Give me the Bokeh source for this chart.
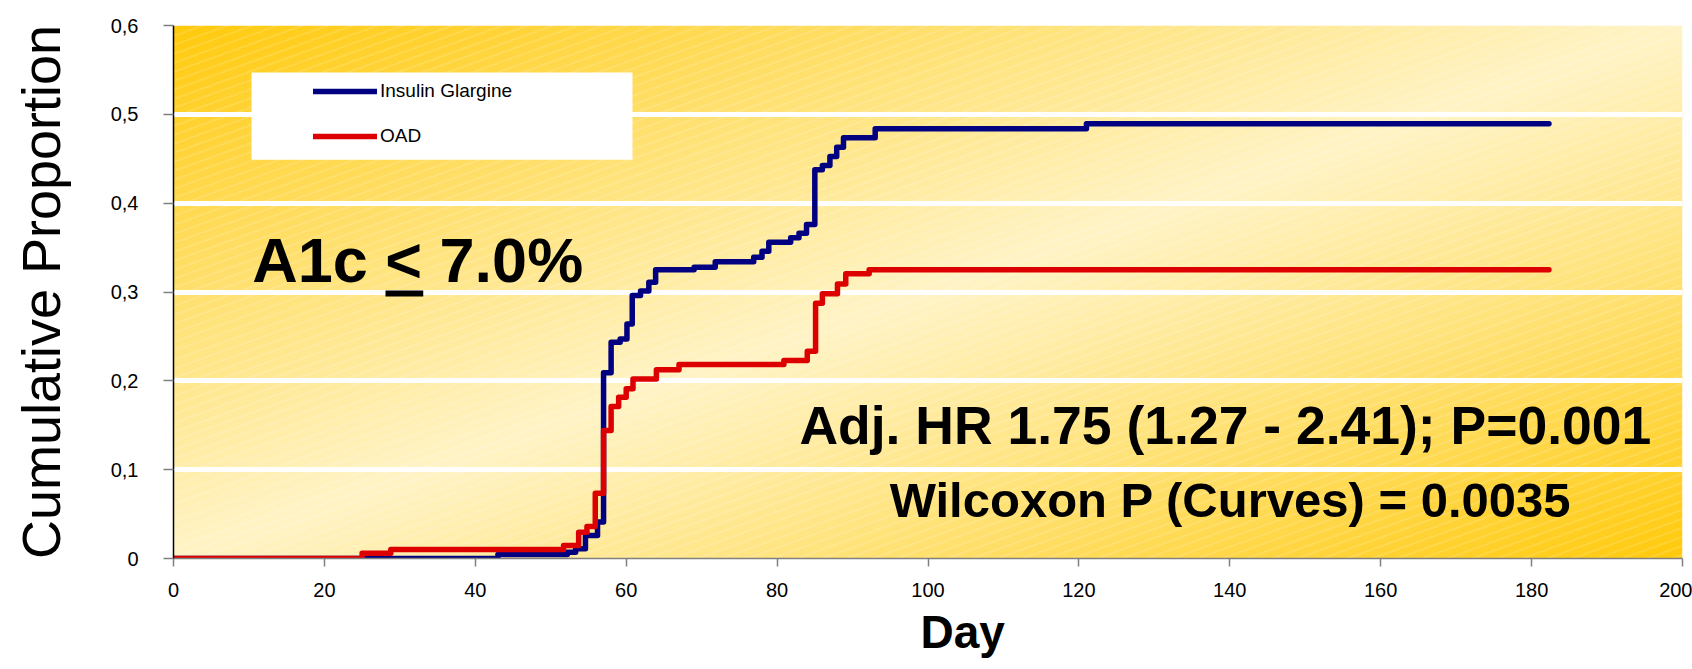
import numpy as np
from bokeh.plotting import figure
from bokeh.models import Legend, LegendItem, Label, BoxAnnotation, FixedTicker, Title
from bokeh.embed import file_html
from bokeh.resources import INLINE

# ---------------- data ----------------
blue_day = [0, 43.0, 52.2, 53.3, 54.6, 56.2, 57.0, 58.0, 59.2, 60.1, 60.8, 61.9, 63.0, 63.9,
            69.0, 71.8, 76.9, 78.0, 78.9, 81.8, 82.9, 83.9, 85.0, 86.0, 87.0, 87.9, 88.8,
            93.0, 121.0, 182.3]
blue_prop = [0, 0.0045, 0.007, 0.011, 0.026, 0.041, 0.209, 0.2435, 0.247, 0.264, 0.296, 0.301,
             0.311, 0.325, 0.328, 0.334, 0.339, 0.346, 0.356, 0.361, 0.366, 0.376, 0.4375,
             0.4424, 0.4526, 0.463, 0.4736, 0.4837, 0.4893, 0.4893]

red_day = [0, 25.0, 28.8, 51.7, 53.7, 54.8, 55.9, 57.0, 58.0, 59.0, 60.0, 60.9, 64.0, 67.0,
           80.9, 84.0, 85.1, 86.0, 88.0, 89.1, 92.2, 182.3]
red_prop = [0, 0.006, 0.010, 0.0146, 0.0296, 0.036, 0.0735, 0.144, 0.171, 0.1816, 0.191,
            0.2022, 0.2124, 0.2184, 0.2229, 0.2334, 0.2874, 0.298, 0.309, 0.3205, 0.325, 0.325]

series_names = ["Insulin Glargine", "OAD"]
x_ticks = [0, 20, 40, 60, 80, 100, 120, 140, 160, 180, 200]
y_ticks = [0, 0.1, 0.2, 0.3, 0.4, 0.5, 0.6]
y_tick_labels = ["0", "0,1", "0,2", "0,3", "0,4", "0,5", "0,6"]

REG = "'Liberation Sans', Arial, sans-serif"

p = figure(width=1692, height=669, x_range=(0, 200), y_range=(0, 0.6),
           output_backend="svg", toolbar_location=None,
           min_border_left=173, min_border_right=10, min_border_top=25, min_border_bottom=111)
p.outline_line_color = None
p.background_fill_color = "white"
p.border_fill_color = "white"

# ---------------- gradient background with faint hatching ----------------
W, H = 1509, 533
xs = (np.arange(W) + 0.5) / W
yb = (np.arange(H) + 0.5) / H
X, Yb = np.meshgrid(xs, yb)
t = (X + (1 - Yb)) / 2
s = np.clip(np.abs(2 * t - 1), 0, 1)
gold = np.array([255, 202, 12], dtype=float)
pale = np.array([255, 244, 198], dtype=float)
rgb = pale + (gold - pale) * (s ** 1.05)[..., None]
px = X * W
py = Yb * H
mask = np.mod(py - 0.36 * px, 9.0) < 1.0
a = 0.28
rgb[mask] = rgb[mask] * (1 - a) + 255 * a
img = np.empty((H, W), dtype=np.uint32)
view = img.view(dtype=np.uint8).reshape((H, W, 4))
view[..., 0] = rgb[..., 0].astype(np.uint8)
view[..., 1] = rgb[..., 1].astype(np.uint8)
view[..., 2] = rgb[..., 2].astype(np.uint8)
view[..., 3] = 255
p.image_rgba(image=[img], x=0, y=0, dw=200, dh=0.6, level="image")

# ---------------- grid ----------------
p.xgrid.visible = False
p.ygrid.ticker = FixedTicker(ticks=y_ticks[1:-1])
p.ygrid.grid_line_color = "white"
p.ygrid.grid_line_width = 5

# ---------------- axes ----------------
p.xaxis.ticker = FixedTicker(ticks=x_ticks)
p.yaxis.ticker = FixedTicker(ticks=y_ticks)
p.yaxis.major_label_overrides = dict(zip(y_ticks, y_tick_labels))

p.yaxis.axis_line_color = "black"
p.yaxis.axis_line_width = 1.5
p.yaxis.major_tick_line_color = "#808080"
p.yaxis.major_tick_line_width = 1.5
p.yaxis.major_tick_out = 10
p.yaxis.major_tick_in = 0
p.yaxis.minor_tick_line_color = None
p.yaxis.major_label_text_font = REG
p.yaxis.major_label_text_font_size = "20px"
p.yaxis.major_label_text_color = "black"
p.yaxis.major_label_standoff = 25
p.yaxis.axis_label = "Cumulative Proportion"
p.yaxis.axis_label_text_font = REG
p.yaxis.axis_label_text_font_style = "normal"
p.yaxis.axis_label_text_font_size = "54px"
p.yaxis.axis_label_text_color = "black"
p.yaxis.axis_label_standoff = 37

p.xaxis.axis_line_color = "#808080"
p.xaxis.axis_line_width = 1.5
p.xaxis.major_tick_line_color = "#808080"
p.xaxis.major_tick_line_width = 1.5
p.xaxis.major_tick_out = 8
p.xaxis.major_tick_in = 0
p.xaxis.minor_tick_line_color = None
p.xaxis.major_label_text_font = REG
p.xaxis.major_label_text_font_size = "20px"
p.xaxis.major_label_text_color = "black"
p.xaxis.major_label_standoff = 16

# x-axis title as a side title (so that it can be shifted along the axis)
p.add_layout(Title(text="Day", align="left", offset=747, standoff=8,
                   text_font=REG, text_font_style="bold", text_font_size="46px",
                   text_color="black"), "below")

# ---------------- curves ----------------
rb = p.step(blue_day, blue_prop, mode="after", line_color="#000080", line_width=5.5,
            line_join="round", line_cap="round")
rr = p.step(red_day, red_prop, mode="after", line_color="#DD0000", line_width=5.5,
            line_join="round", line_cap="round")

# ---------------- legend ----------------
p.add_layout(BoxAnnotation(left=10.34, right=60.83, bottom=0.4488, top=0.5471,
                           fill_color="white", fill_alpha=1, line_color=None))
legend = Legend(items=[LegendItem(label=series_names[0], renderers=[rb]),
                       LegendItem(label=series_names[1], renderers=[rr])],
                location=(140, 411), padding=0, spacing=23, margin=0,
                glyph_width=64, glyph_height=20, label_height=20, label_standoff=3,
                label_text_font=REG, label_text_font_size="19px", label_text_color="black",
                background_fill_alpha=0, border_line_alpha=0)
p.add_layout(legend)

# ---------------- annotations ----------------
p.add_layout(Label(x=10.43, y=0.3363, text="A1c < 7.0%", text_font=REG,
                   text_font_style="bold", text_font_size="63px", text_color="black",
                   text_align="left", text_baseline="alphabetic"))
p.add_layout(BoxAnnotation(left=28.1, right=33.1, bottom=0.2949, top=0.3017,
                           fill_color="black", fill_alpha=1, line_color=None))
p.add_layout(Label(x=140.4, y=0.1501, text="Adj.  HR 1.75 (1.27 - 2.41); P=0.001",
                   text_font=REG, text_font_style="bold", text_font_size="53.5px",
                   text_color="black", text_align="center", text_baseline="alphabetic"))
p.add_layout(Label(x=141.0, y=0.0656, text="Wilcoxon P (Curves)  = 0.0035",
                   text_font=REG, text_font_style="bold", text_font_size="49px",
                   text_color="black", text_align="center", text_baseline="alphabetic"))

open("out.html", "w").write(file_html(p, INLINE))
